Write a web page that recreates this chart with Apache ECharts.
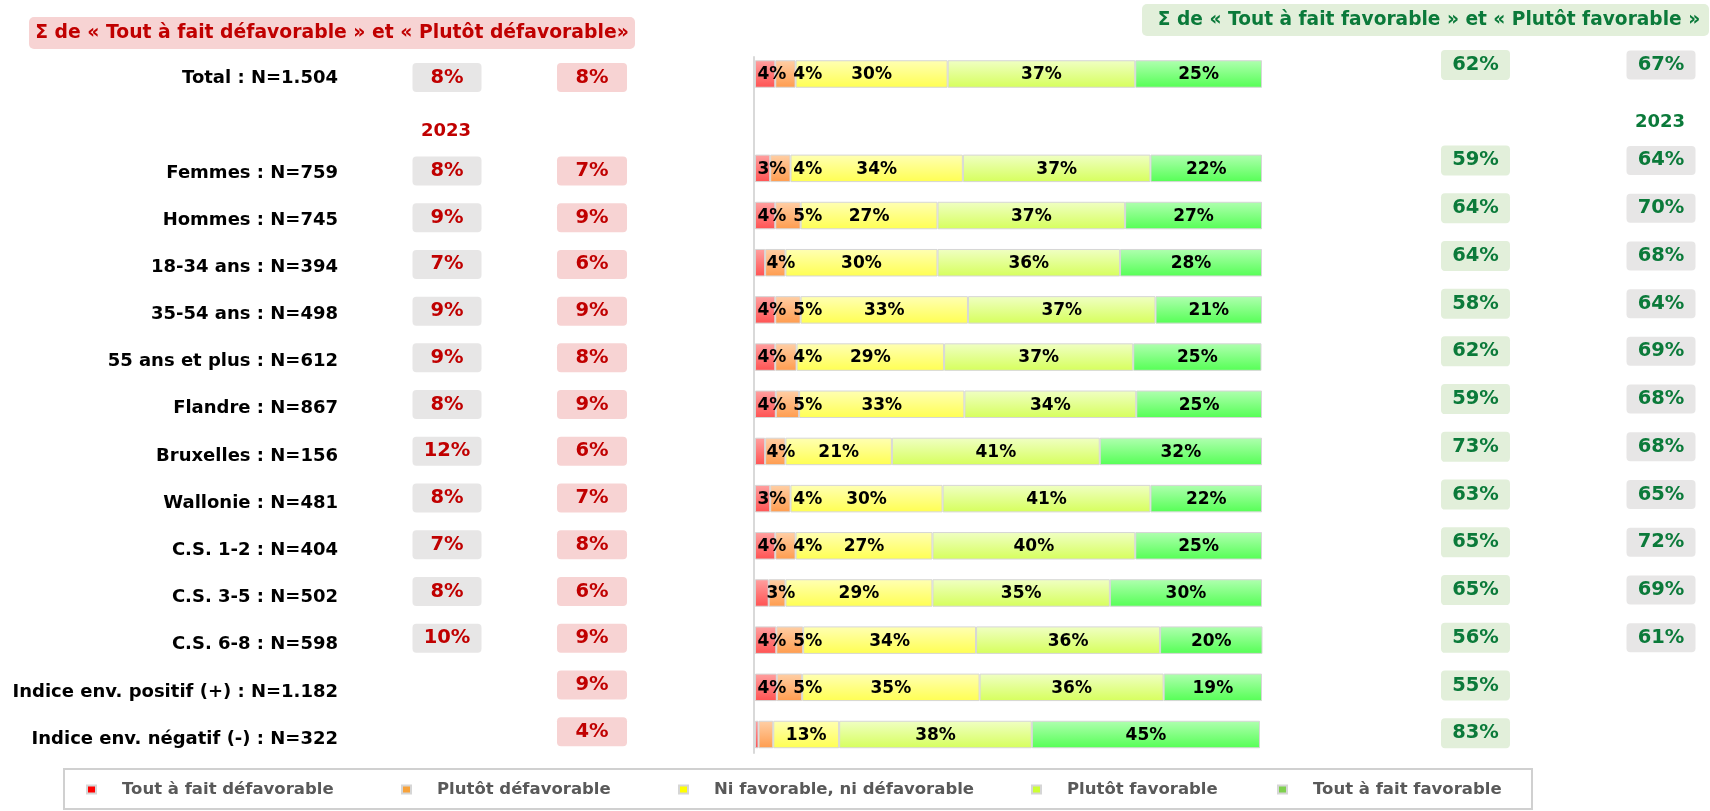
<!DOCTYPE html>
<html>
<head>
<meta charset="utf-8">
<script src="https://cdn.jsdelivr.net/npm/echarts@6/dist/echarts.min.js"></script>
<style>
html,body{margin:0;padding:0;background:#fff;}
#chart{width:1710px;height:811px;}
</style>
</head>
<body>
<div id="chart"></div>
<script>
// ---------- DATA ----------
const categories = ['Total : N=1.504', '', 'Femmes : N=759', 'Hommes : N=745', '18-34 ans : N=394', '35-54 ans : N=498', '55 ans et plus : N=612', 'Flandre : N=867', 'Bruxelles : N=156', 'Wallonie : N=481', 'C.S. 1-2 : N=404', 'C.S. 3-5 : N=502', 'C.S. 6-8 : N=598', 'Indice env. positif (+) : N=1.182', 'Indice env. négatif (-) : N=322'];
const seriesNames = ['Tout à fait défavorable', 'Plutôt défavorable', 'Ni favorable, ni défavorable', 'Plutôt favorable', 'Tout à fait favorable'];
const toutDefav   = [4, null, 3, 4, 2, 4, 4,   4.1, 2, 3, 4, 2.7, 4.2, 4.3, 0.7];
const plutotDefav = [4, null, 4, 5, 4, 5, 4.2, 4.6, 4, 4, 4, 3.3, 5.3, 5,   2.9];
const ni          = [30, null, 34, 27, 30, 33, 29.1, 32.6, 21, 30, 27, 29, 34.1, 35, 13];
const plutotFav   = [37, null, 37, 37, 36, 37, 37.3, 33.9, 41, 41, 40, 35, 36.3, 36.3, 38];
const toutFav     = [25, null, 22, 27, 28, 21, 25.3, 24.8, 32, 22, 25, 30, 20.2, 19.4, 45];
const defav2023 = [8, null, 8, 9, 7, 9, 9, 8, 12, 8, 7, 8, 10, null, null];
const defav2024 = [8, null, 7, 9, 6, 9, 8, 9, 6, 7, 8, 6, 9, 9, 4];
const fav2024   = [62, null, 59, 64, 64, 58, 62, 59, 73, 63, 65, 65, 56, 55, 83];
const fav2023   = [67, null, 64, 70, 68, 64, 69, 68, 68, 65, 72, 69, 61, null, null];
const yearLabel = '2023';
const titleDefav = 'Σ de « Tout à fait défavorable » et « Plutôt défavorable»';
const titleFav = 'Σ de « Tout à fait favorable » et « Plutôt favorable »';

// ---------- STYLE ----------
const FONT = "'DejaVu Sans', sans-serif";
const RED_TXT = '#c00000', GREEN_TXT = '#0b7a3a';
const legendColors = ['#ff0000', '#f7a23a', '#ffff00', '#ccff33', '#7fd04e'];
const gradStops = [
  ['#ffa0a0', '#ff5252'],
  ['#ffcfa6', '#ff9c4e'],
  ['#ffffb4', '#ffff52'],
  ['#f0ffc4', '#d6ff5c'],
  ['#b0ffb0', '#55ff55']
];
const barVals = [toutDefav, plutotDefav, ni, plutotFav, toutFav];
const BAR_LEFT = 755, BAR_W = 507, BAR_TOP = 50.4, BAR_H = 707.7, LBL_SIZE = 17;

const cnv = document.createElement('canvas').getContext('2d');
function textW(t, size) { cnv.font = 'bold ' + size + 'px ' + FONT; return cnv.measureText(t).width; }
function fitSize(t, target) { return Math.round(20 * target / textW(t, 20) * 10) / 10; }

// label overlap avoidance along each row
const k = BAR_W / 100;
const offsets = barVals.map(() => []);
for (let r = 0; r < categories.length; r++) {
  let cum = 0, prevRight = -5.3;
  for (let s = 0; s < barVals.length; s++) {
    const v = barVals[s][r];
    if (v == null) continue;
    const start = cum * k, end = (cum + v) * k, c = (start + end) / 2;
    if (v >= 3) {
      const w = textW(Math.round(v) + '%', LBL_SIZE);
      let left = c - w / 2;
      const minLeft = Math.max(2.5, prevRight + 7);
      if (left < minLeft) left = minLeft;
      offsets[s][r] = left + w / 2 - c;
      prevRight = left + w;
    } else {
      offsets[s][r] = 0;
      prevRight = Math.max(prevRight, 4.5);
    }
    cum += v;
  }
}

const barSeries = barVals.map((vals, s) => ({
  name: seriesNames[s],
  type: 'bar',
  stack: 'total',
  xAxisIndex: 0, yAxisIndex: 0,
  barWidth: 27.5,
  silent: true,
  itemStyle: {
    color: {type: 'linear', x: 0, y: 0, x2: 0, y2: 1,
      colorStops: [{offset: 0, color: gradStops[s][0]}, {offset: 1, color: gradStops[s][1]}]},
    borderColor: '#d6d6d6', borderWidth: 1
  },
  data: vals.map((v, r) => v == null ? null : {
    value: v,
    label: {offset: [offsets[s][r], 1]}
  }),
  label: {
    show: true, position: 'inside', color: '#000',
    fontFamily: FONT, fontWeight: 'bold', fontSize: LBL_SIZE,
    formatter: p => (p.value >= 3 ? Math.round(p.value) + '%' : '')
  }
}));

const BOX_PATH = 'path://M4,0H66A4,4 0 0 1 70,4V25A4,4 0 0 1 66,29H4A4,4 0 0 1 0,25V4A4,4 0 0 1 4,0Z';
function boxSeries(vals, xPos, grid, fill, txtColor, size) {
  return {
    type: 'scatter',
    xAxisIndex: grid, yAxisIndex: grid,
    symbol: BOX_PATH, symbolSize: size,
    silent: true,
    itemStyle: {color: fill, opacity: 1},
    label: {show: true, position: 'inside', color: txtColor,
      fontFamily: FONT, fontWeight: 'bold', fontSize: 19.5,
      formatter: p => p.value[2] + '%'},
    data: vals.map((v, i) => v == null ? null : [xPos, i, v]).filter(d => d)
  };
}

const legendLefts = [86, 401, 678, 1031, 1277];
const legends = seriesNames.map((n, i) => ({
  left: legendLefts[i], top: 781, padding: 0,
  icon: 'rect', itemWidth: 9, itemHeight: 8, selectedMode: false,
  data: [{name: n, itemStyle: {color: legendColors[i]}}],
  textStyle: {color: '#595959', fontFamily: FONT, fontWeight: 'bold', fontSize: 16.5, padding: [0, 0, 0, 21]}
}));

const hiddenVal = {type: 'value', min: 0, max: 1, show: false};
const gridBase = {outerBoundsMode: 'none', containLabel: false};
const option = {
  animation: false,
  backgroundColor: '#fff',
  grid: [
    Object.assign({left: BAR_LEFT, top: BAR_TOP, width: BAR_W, height: BAR_H}, gridBase),
    Object.assign({left: 447, top: 54.1, width: 145, height: 701}, gridBase),
    Object.assign({left: 1475.5, top: 41.1, width: 185.5, height: 716}, gridBase),
    Object.assign({left: 754, top: 57, width: 1, height: 696}, gridBase),
    Object.assign({left: BAR_LEFT, top: BAR_TOP + 4.5, width: BAR_W, height: BAR_H}, gridBase)
  ],
  xAxis: [
    {type: 'value', min: 0, max: 100, show: false, gridIndex: 0},
    Object.assign({gridIndex: 1}, hiddenVal),
    Object.assign({gridIndex: 2}, hiddenVal),
    Object.assign({gridIndex: 3}, hiddenVal),
    Object.assign({gridIndex: 4}, hiddenVal)
  ],
  yAxis: [
    {type: 'category', data: categories, inverse: true, gridIndex: 0, show: false},
    {type: 'category', data: categories, inverse: true, gridIndex: 1, show: false},
    {type: 'category', data: categories, inverse: true, gridIndex: 2, show: false},
    {type: 'category', data: ['axis'], gridIndex: 3,
      axisLine: {show: true, lineStyle: {color: '#d9d9d9', width: 2}},
      axisTick: {show: false}, axisLabel: {show: false}},
    {type: 'category', data: categories, inverse: true, gridIndex: 4,
      axisLine: {show: false}, axisTick: {show: false},
      axisLabel: {margin: BAR_LEFT - 338, color: '#000', fontFamily: FONT, fontWeight: 'bold', fontSize: 18}}
  ],
  legend: legends,
  series: barSeries.concat([
    boxSeries(defav2023, 0, 1, '#e7e6e6', RED_TXT, [69, 29]),
    boxSeries(defav2024, 1, 1, '#f7d3d3', RED_TXT, [70, 29]),
    boxSeries(fav2024, 0, 2, '#e2efda', GREEN_TXT, [69, 30]),
    boxSeries(fav2023, 1, 2, '#e7e6e6', GREEN_TXT, [69, 29])
  ]),
  graphic: [
    {type: 'rect', shape: {x: 29, y: 17, width: 606, height: 32, r: 5}, style: {fill: '#f7d3d3'}, silent: true},
    {type: 'text', style: {text: titleDefav, x: 332, y: 33, textAlign: 'center', textVerticalAlign: 'middle',
      font: 'bold ' + fitSize(titleDefav, 593) + 'px ' + FONT, fill: RED_TXT}, silent: true},
    {type: 'rect', shape: {x: 1142, y: 4, width: 567, height: 32, r: 5}, style: {fill: '#e2efda'}, silent: true},
    {type: 'text', style: {text: titleFav, x: 1429, y: 20, textAlign: 'center', textVerticalAlign: 'middle',
      font: 'bold ' + fitSize(titleFav, 542) + 'px ' + FONT, fill: GREEN_TXT}, silent: true},
    {type: 'text', style: {text: yearLabel, x: 446, y: 131, textAlign: 'center', textVerticalAlign: 'middle',
      font: 'bold 18px ' + FONT, fill: RED_TXT}, silent: true},
    {type: 'text', style: {text: yearLabel, x: 1660, y: 122, textAlign: 'center', textVerticalAlign: 'middle',
      font: 'bold 18px ' + FONT, fill: GREEN_TXT}, silent: true},
    {type: 'rect', shape: {x: 64, y: 769, width: 1468, height: 40}, style: {fill: 'none', stroke: '#d0d0d0', lineWidth: 2}, silent: true, z: -1}
  ]
};
const chart = echarts.init(document.getElementById('chart'));
chart.setOption(option);
</script>
</body>
</html>
